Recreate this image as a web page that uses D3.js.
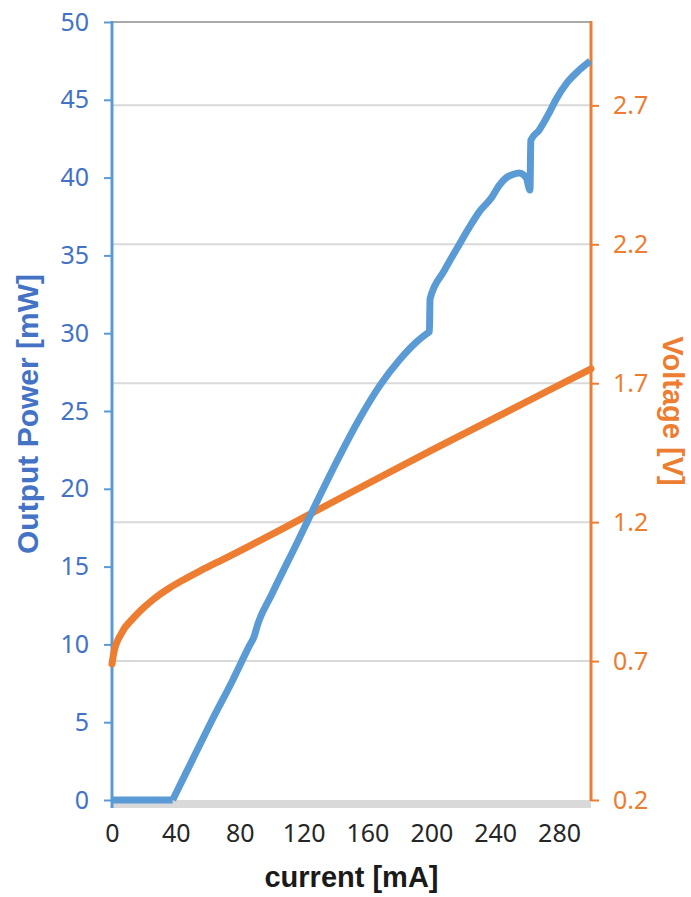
<!DOCTYPE html>
<html>
<head>
<meta charset="utf-8">
<script src="https://cdn.jsdelivr.net/npm/d3@7"></script>
<style>
  html, body { margin: 0; padding: 0; background: #fff; }
  svg { display: block; font-family: "Noto Sans", "Open Sans", sans-serif; }
</style>
</head>
<body>
<svg id="chart" width="691" height="897"></svg>
<script>
// ---- data ----
const powerCurrent = [0, 38, 50, 62, 75.6, 86, 89, 91, 100, 116.25, 128, 142.5, 155, 167.5, 180, 190.6, 197.5, 198.8, 199.2, 208, 217.5, 223.75, 230, 238, 242.5, 247, 251, 255, 259.4, 261.8, 262.3, 267.5, 274, 278, 285, 292.5, 299.5];
const powerValues  = [0, 0, 2.5, 5.0, 7.7, 9.9, 10.5, 11.2, 13.2, 16.6, 19.1, 22.1, 24.5, 26.6, 28.28, 29.43, 30.0, 30.1, 32.2, 34.0, 35.7, 36.8, 37.8, 38.75, 39.5, 40.0, 40.2, 40.3, 40.0, 39.2, 42.4, 43.05, 44.2, 45.0, 46.1, 46.9, 47.5];

const voltageCurrent = [0, 1, 2, 4, 6, 8, 11, 15, 20, 24, 30, 36, 44.6, 55, 65.4, 86, 107, 128, 149, 200, 250, 300];
const voltageValues  = [0.69, 0.725, 0.75, 0.78, 0.80, 0.82, 0.84, 0.865, 0.893, 0.913, 0.94, 0.963, 0.992, 1.024, 1.054, 1.114, 1.177, 1.241, 1.305, 1.458, 1.605, 1.752];

const xTicks = [0, 40, 80, 120, 160, 200, 240, 280];
const leftTicks = [0, 5, 10, 15, 20, 25, 30, 35, 40, 45, 50];
const rightTicks = [0.2, 0.7, 1.2, 1.7, 2.2, 2.7];

const xTitle = "current [mA]";
const leftTitle = "Output Power [mW]";
const rightTitle = "Voltage [V]";

// ---- layout ----
const svg = d3.select("#chart");
const L = 112, R = 591, T = 22, B = 800;
const blueLine = "#5B9BD5", blueText = "#4472C4", orange = "#ED7D31";
const titleFont = "'Liberation Sans', Arial, sans-serif";

const x = d3.scaleLinear().domain([0, 300]).range([L, R]);
const yL = d3.scaleLinear().domain([0, 50]).range([B, T]);
const yR = d3.scaleLinear().domain([0.2, 3.0]).range([B, T]);

// gridlines (from right axis)
svg.append("g").selectAll("line")
  .data(rightTicks.filter(d => d > 0.2))
  .join("line")
  .attr("x1", L).attr("x2", R)
  .attr("y1", d => yR(d)).attr("y2", d => yR(d))
  .attr("stroke", "#d9d9d9").attr("stroke-width", 2);

// top border
svg.append("line").attr("x1", L).attr("x2", R).attr("y1", T).attr("y2", T)
  .attr("stroke", "#8c8c8c").attr("stroke-width", 1.5);

// bottom x-axis band
svg.append("line").attr("x1", L).attr("x2", R).attr("y1", B + 4).attr("y2", B + 4)
  .attr("stroke", "#d9d9d9").attr("stroke-width", 8);

// x axis labels
const xAxis = d3.axisBottom(x).tickValues(xTicks).tickSize(0).tickPadding(20).tickFormat(d3.format("d"));
const gx = svg.append("g").attr("transform", `translate(0,${B + 4})`).call(xAxis);
gx.select(".domain").remove();
gx.selectAll("text").attr("font-size", 25).attr("fill", "#262626").attr("font-family", "Noto Sans, sans-serif");

// left axis
const leftAxis = d3.axisLeft(yL).tickValues(leftTicks).tickSize(8).tickPadding(15).tickFormat(d3.format("d"));
const gl = svg.append("g").attr("transform", `translate(${L},0)`).call(leftAxis);
gl.select(".domain").remove();
gl.selectAll(".tick line").attr("stroke", blueLine).attr("stroke-width", 2);
gl.selectAll("text").attr("font-size", 25).attr("fill", blueText).attr("font-family", "Noto Sans, sans-serif");
svg.append("line").attr("x1", L).attr("x2", L).attr("y1", T - 1).attr("y2", B + 8)
  .attr("stroke", blueLine).attr("stroke-width", 3);

// right axis
const rightAxis = d3.axisRight(yR).tickValues(rightTicks).tickSize(8).tickPadding(14).tickFormat(d3.format(".1f"));
const gr = svg.append("g").attr("transform", `translate(${R},0)`).call(rightAxis);
gr.select(".domain").remove();
gr.selectAll(".tick line").attr("stroke", orange).attr("stroke-width", 2);
gr.selectAll("text").attr("font-size", 25).attr("fill", orange).attr("font-family", "Noto Sans, sans-serif");
svg.append("line").attr("x1", R).attr("x2", R).attr("y1", T - 1).attr("y2", B + 1)
  .attr("stroke", orange).attr("stroke-width", 3);

// lines
const powerData = powerCurrent.map((c, i) => [c, powerValues[i]]);
const voltageData = voltageCurrent.map((c, i) => [c, voltageValues[i]]);

svg.append("path").datum(voltageData)
  .attr("fill", "none").attr("stroke", orange).attr("stroke-width", 7)
  .attr("stroke-linejoin", "round").attr("stroke-linecap", "round")
  .attr("d", d3.line().x(d => x(d[0])).y(d => yR(d[1])).curve(d3.curveMonotoneX));

// power: flat sub-threshold part, then the lasing part (split at threshold)
const powerLine = d3.line().x(d => x(d[0])).y(d => yL(d[1])).curve(d3.curveMonotoneX);
const powerFlat = powerData.slice(0, 2);
const powerLasing = powerData.slice(1);
svg.append("path").datum(powerFlat)
  .attr("fill", "none").attr("stroke", blueLine).attr("stroke-width", 7)
  .attr("stroke-linecap", "butt")
  .attr("d", d3.line().x(d => x(d[0])).y(d => yL(d[1])));
svg.append("path").datum(powerLasing)
  .attr("fill", "none").attr("stroke", blueLine).attr("stroke-width", 7)
  .attr("stroke-linejoin", "round").attr("stroke-linecap", "butt")
  .attr("d", powerLine);

// titles
svg.append("text").attr("x", (L + R) / 2).attr("y", 887)
  .attr("text-anchor", "middle").attr("font-size", 29).attr("font-weight", "bold")
  .attr("font-family", titleFont)
  .attr("fill", "#1a1a1a").text(xTitle);

svg.append("text").attr("transform", `translate(38,414) rotate(-90)`)
  .attr("text-anchor", "middle").attr("font-size", 30).attr("font-weight", "bold")
  .attr("font-family", titleFont)
  .attr("fill", blueText).text(leftTitle);

svg.append("text").attr("transform", `translate(663,411) rotate(90)`)
  .attr("text-anchor", "middle").attr("font-size", 29).attr("font-weight", "bold")
  .attr("font-family", titleFont)
  .attr("fill", orange).text(rightTitle);
</script>
</body>
</html>
